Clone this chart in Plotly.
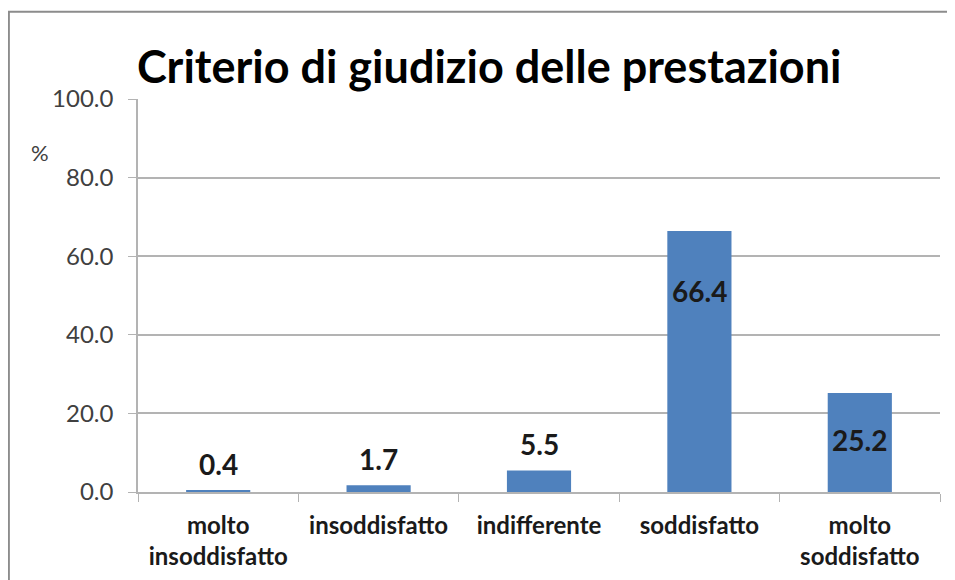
import plotly.graph_objects as go

# Data
categories = ['molto<br>insoddisfatto', 'insoddisfatto', 'indifferente',
              'soddisfatto', 'molto<br>soddisfatto']
percent = [0.4, 1.7, 5.5, 66.4, 25.2]
y_ticks = [0, 20, 40, 60, 80, 100]

BAR_COLOR = '#4f81bd'
GRID = '#b3b3b3'
FONT = 'Lato, Carlito, Calibri, sans-serif'

# label offsets (pixels) relative to bar top
label_shift = [26, 26, 26, -60, -47]

fig = go.Figure()
fig.add_trace(go.Bar(x=categories, y=percent, marker=dict(color=BAR_COLOR, line=dict(width=0)),
                     width=0.4, hoverinfo='x+y'))

for cat, val, sh in zip(categories, percent, label_shift):
    fig.add_annotation(x=cat, y=val, yshift=sh, text=f'<b>{val:.1f}</b>', showarrow=False,
                       font=dict(family=FONT, size=28, color='#1a1a1a'))

fig.add_annotation(xref='paper', yref='paper', x=-0.122, y=0.865, xanchor='center', yanchor='middle',
                   text='%', showarrow=False, font=dict(family=FONT, size=22, color='#404040'))

# chart frame
fig.add_shape(type='rect', xref='paper', yref='paper', x0=-0.161, y0=-1, x1=2, y1=1.222,
              line=dict(color='#8c8c8c', width=2), fillcolor='rgba(0,0,0,0)', layer='below')

fig.update_layout(
    width=955, height=580,
    paper_bgcolor='white', plot_bgcolor='white',
    margin=dict(l=130, r=23, t=91, b=96),
    showlegend=False,
    title=dict(text='<b>Criterio di giudizio delle prestazioni</b>', x=0.135, xanchor='left',
               y=0.898, yanchor='middle', font=dict(family=FONT, size=45, color='black')),
    font=dict(family=FONT, color='#404040'),
)
fig.update_yaxes(range=[0, 100], tickvals=y_ticks, tickformat='.1f', showgrid=True,
                 gridcolor=GRID, gridwidth=1.5, showline=True, linecolor=GRID, linewidth=1.5,
                 ticks='outside', ticklen=8, tickcolor=GRID, zeroline=False,
                 ticklabelstandoff=10,
                 tickfont=dict(family=FONT, size=24, color='#404040'))
fig.update_xaxes(showline=True, linecolor=GRID, linewidth=1.5, ticks='outside', ticklen=8,
                 tickcolor=GRID, tickson='boundaries', showgrid=False,
                 ticklabelstandoff=11,
                 tickprefix='<b>', ticksuffix='</b>',
                 tickfont=dict(family=FONT, size=24, color='#1a1a1a'))

fig.write_html('out.html')
